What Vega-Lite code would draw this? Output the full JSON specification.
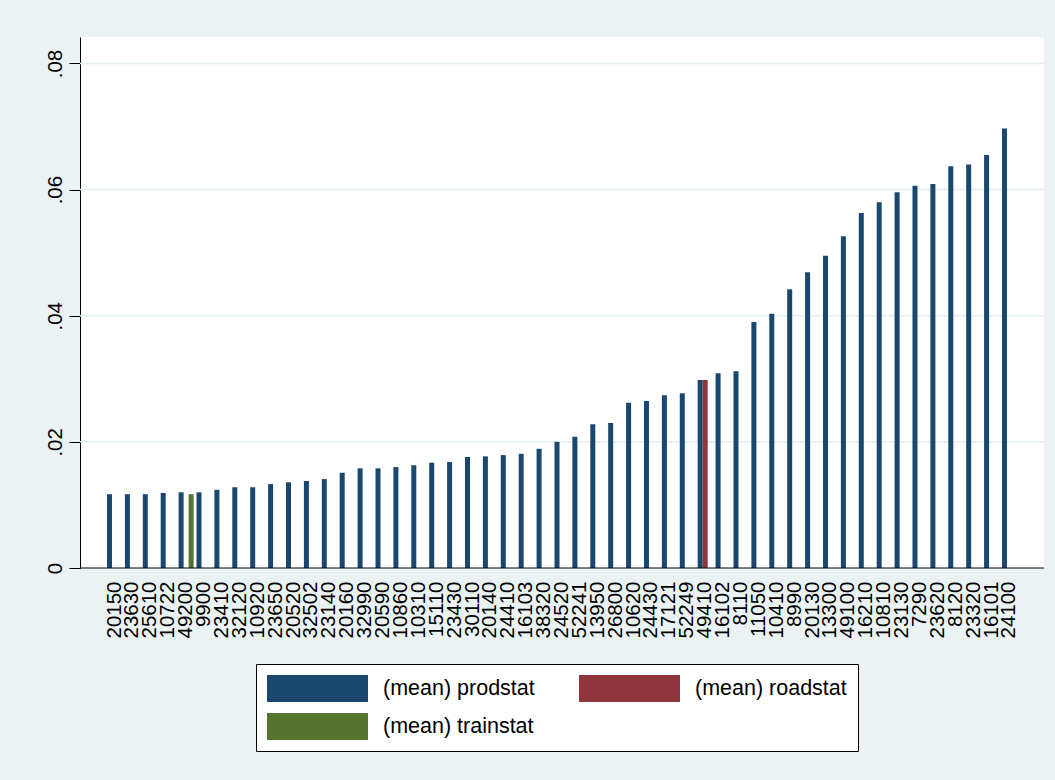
{
  "$schema": "https://vega.github.io/schema/vega-lite/v6.json",
  "autosize": {"type": "none"},
  "width": 964,
  "height": 531,
  "padding": {"left": 80, "top": 37, "right": 11, "bottom": 212},
  "background": "#eaf2f3",
  "config": {
    "view": {"fill": "white", "stroke": null},
    "font": "Liberation Sans"
  },
  "datasets": {
    "means": [
      {"code": "20150", "series": "(mean) prodstat", "value": 0.0117},
      {"code": "23630", "series": "(mean) prodstat", "value": 0.0117},
      {"code": "25610", "series": "(mean) prodstat", "value": 0.0117},
      {"code": "10722", "series": "(mean) prodstat", "value": 0.0119},
      {"code": "49200", "series": "(mean) prodstat", "value": 0.0120},
      {"code": "9900", "series": "(mean) prodstat", "value": 0.0120},
      {"code": "23410", "series": "(mean) prodstat", "value": 0.0124},
      {"code": "32120", "series": "(mean) prodstat", "value": 0.0128},
      {"code": "10920", "series": "(mean) prodstat", "value": 0.0128},
      {"code": "23650", "series": "(mean) prodstat", "value": 0.0133},
      {"code": "20520", "series": "(mean) prodstat", "value": 0.0136},
      {"code": "32502", "series": "(mean) prodstat", "value": 0.0138},
      {"code": "23140", "series": "(mean) prodstat", "value": 0.0141},
      {"code": "20160", "series": "(mean) prodstat", "value": 0.0151},
      {"code": "32990", "series": "(mean) prodstat", "value": 0.0158},
      {"code": "20590", "series": "(mean) prodstat", "value": 0.0158},
      {"code": "10860", "series": "(mean) prodstat", "value": 0.0160},
      {"code": "10310", "series": "(mean) prodstat", "value": 0.0163},
      {"code": "15110", "series": "(mean) prodstat", "value": 0.0167},
      {"code": "23430", "series": "(mean) prodstat", "value": 0.0168},
      {"code": "30110", "series": "(mean) prodstat", "value": 0.0176},
      {"code": "20140", "series": "(mean) prodstat", "value": 0.0177},
      {"code": "24410", "series": "(mean) prodstat", "value": 0.0179},
      {"code": "16103", "series": "(mean) prodstat", "value": 0.0181},
      {"code": "38320", "series": "(mean) prodstat", "value": 0.0189},
      {"code": "24520", "series": "(mean) prodstat", "value": 0.0200},
      {"code": "52241", "series": "(mean) prodstat", "value": 0.0208},
      {"code": "13950", "series": "(mean) prodstat", "value": 0.0228},
      {"code": "26800", "series": "(mean) prodstat", "value": 0.0230},
      {"code": "10620", "series": "(mean) prodstat", "value": 0.0262},
      {"code": "24430", "series": "(mean) prodstat", "value": 0.0265},
      {"code": "17121", "series": "(mean) prodstat", "value": 0.0274},
      {"code": "52249", "series": "(mean) prodstat", "value": 0.0277},
      {"code": "49410", "series": "(mean) prodstat", "value": 0.0298},
      {"code": "16102", "series": "(mean) prodstat", "value": 0.0309},
      {"code": "8110", "series": "(mean) prodstat", "value": 0.0312},
      {"code": "11050", "series": "(mean) prodstat", "value": 0.0390},
      {"code": "10410", "series": "(mean) prodstat", "value": 0.0403},
      {"code": "8990", "series": "(mean) prodstat", "value": 0.0442},
      {"code": "20130", "series": "(mean) prodstat", "value": 0.0469},
      {"code": "13300", "series": "(mean) prodstat", "value": 0.0495},
      {"code": "49100", "series": "(mean) prodstat", "value": 0.0526},
      {"code": "16210", "series": "(mean) prodstat", "value": 0.0563},
      {"code": "10810", "series": "(mean) prodstat", "value": 0.0580},
      {"code": "23130", "series": "(mean) prodstat", "value": 0.0596},
      {"code": "7290", "series": "(mean) prodstat", "value": 0.0606},
      {"code": "23620", "series": "(mean) prodstat", "value": 0.0609},
      {"code": "8120", "series": "(mean) prodstat", "value": 0.0637},
      {"code": "23320", "series": "(mean) prodstat", "value": 0.0640},
      {"code": "16101", "series": "(mean) prodstat", "value": 0.0655},
      {"code": "24100", "series": "(mean) prodstat", "value": 0.0697},
      {"code": "49410", "series": "(mean) roadstat", "value": 0.0298},
      {"code": "49200", "series": "(mean) trainstat", "value": 0.0117}
    ],
    "gridlines": [
      {"value": 0.02},
      {"value": 0.04},
      {"value": 0.06},
      {"value": 0.08}
    ],
    "baseline": [
      {"value": 0}
    ]
  },
  "encoding": {
    "y": {
      "field": "value",
      "type": "quantitative",
      "scale": {"domain": [0, 0.0842], "nice": false, "zero": true},
      "axis": {
        "title": null,
        "values": [0, 0.02, 0.04, 0.06, 0.08],
        "labelExpr": "datum.value == 0 ? '0' : replace(format(datum.value, '.2f'), '0.', '.')",
        "domainColor": "black",
        "domainWidth": 1,
        "tickColor": "black",
        "tickSize": 11,
        "tickWidth": 1,
        "labelAngle": -90,
        "labelAlign": "center",
        "labelBaseline": "alphabetic",
        "labelPadding": 8,
        "labelFontSize": 20.5,
        "labelColor": "black",
        "labelFont": "Liberation Sans",
        "grid": false
      }
    }
  },
  "layer": [
    {
      "data": {"name": "gridlines"},
      "mark": {"type": "rule", "color": "#e4edf0", "strokeWidth": 1.5},
      "encoding": {}
    },
    {
      "data": {"name": "means"},
      "mark": {"type": "bar", "strokeWidth": 0},
      "encoding": {
        "x": {
          "field": "code",
          "type": "nominal",
          "sort": null,
          "scale": {"range": [27, 937], "paddingInner": 0.161, "paddingOuter": 0},
          "axis": {
            "title": null,
            "domain": false,
            "ticks": false,
            "tickSize": 0,
            "labelAngle": -90,
            "labelAlign": "right",
            "labelBaseline": "middle",
            "labelPadding": 13,
            "labelFontSize": 20.5,
            "labelColor": "black",
            "labelFont": "Liberation Sans"
          }
        },
        "xOffset": {
          "field": "series",
          "type": "nominal",
          "scale": {
            "domain": ["(mean) prodstat", "(mean) roadstat", "(mean) trainstat"],
            "paddingInner": 0,
            "paddingOuter": 0
          }
        },
        "color": {
          "field": "series",
          "type": "nominal",
          "scale": {
            "domain": ["(mean) prodstat", "(mean) roadstat", "(mean) trainstat"],
            "range": ["#1a476f", "#90353b", "#55752f"]
          },
          "legend": {
            "title": null,
            "orient": "none",
            "legendX": 176,
            "legendY": 627,
            "direction": "horizontal",
            "columns": 2,
            "symbolType": "M-1,-0.27H1V0.27H-1Z",
            "symbolSize": 10201,
            "symbolStrokeWidth": 0,
            "symbolOpacity": 1,
            "clipHeight": 27,
            "labelOffset": 15,
            "labelFontSize": 21.5,
            "labelFont": "Liberation Sans",
            "labelColor": "black",
            "labelLimit": 400,
            "columnPadding": 44,
            "rowPadding": 11,
            "padding": 11,
            "fillColor": "white",
            "strokeColor": "black"
          }
        }
      }
    },
    {
      "data": {"name": "baseline"},
      "mark": {"type": "rule", "color": "black", "strokeWidth": 1},
      "encoding": {}
    }
  ]
}
